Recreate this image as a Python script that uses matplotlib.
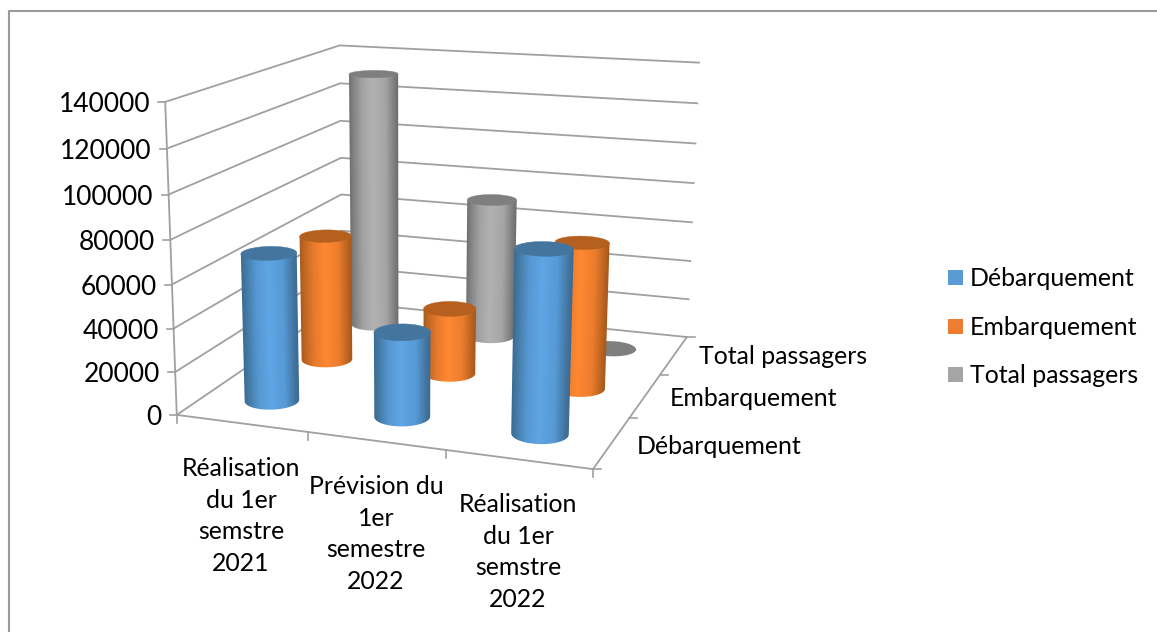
import matplotlib
matplotlib.use("Agg")
import matplotlib.pyplot as plt
from matplotlib.patches import Polygon
import numpy as np

plt.rcParams['font.family'] = ['Lato', 'DejaVu Sans']

# chart data
categories = ["Réalisation\ndu 1er\nsemstre\n2021",
              "Prévision du\n1er\nsemestre\n2022",
              "Réalisation\ndu 1er\nsemstre\n2022"]
series_names = ["Débarquement", "Embarquement", "Total passagers"]
debarquement = [69000, 39000, 82000]
embarquement = [62000, 32000, 69500]
total_passagers = [131000, 71000, 0]
y_ticks = [0, 20000, 40000, 60000, 80000, 100000, 120000, 140000]

W, H = 1157, 632
Z_MAX = y_ticks[-1]
GRID = "#a0a0a0"
INK = "#000000"
FS = 17.9

# box corners (category, series, value) and where they land on the canvas
box_3d = [(0, 0, 0), (3, 0, 0), (3, 3, 0), (0, 3, 0),
          (0, 0, Z_MAX), (0, 3, Z_MAX), (3, 3, Z_MAX)]
box_2d = [(177, 414), (593, 470), (687, 336), (342, 303),
          (165, 102), (340, 45), (699, 63)]


def fit_camera(pts3, pts2):
    rows, rhs = [], []
    for (x, y, z), (u, v) in zip(pts3, pts2):
        z = z / Z_MAX
        rows.append([x, y, z, 1, 0, 0, 0, 0, -u * x, -u * y, -u * z])
        rows.append([0, 0, 0, 0, x, y, z, 1, -v * x, -v * y, -v * z])
        rhs += [u, v]
    p = np.linalg.lstsq(np.array(rows, float), np.array(rhs, float), rcond=None)[0]
    return np.append(p, 1).reshape(3, 4)


CAM = fit_camera(box_3d, box_2d)


def project(x, y, z):
    x, y, z = np.broadcast_arrays(x, y, np.asarray(z, float) / Z_MAX)
    q = CAM @ np.vstack([x.ravel(), y.ravel(), z.ravel(), np.ones(x.size)])
    return q[0] / q[2], q[1] / q[2]


def point(x, y, z):
    u, v = project(x, y, z)
    return float(u[0]), float(v[0])


def line3d(ax, a, b, lw=1.3, zorder=1):
    u, v = project([a[0], b[0]], [a[1], b[1]], [a[2], b[2]])
    ax.plot(u, v, color=GRID, lw=lw, zorder=zorder, solid_capstyle="butt")


def shade(stops, t):
    stops = np.array([matplotlib.colors.to_rgb(c) for c in stops])
    pos = np.array([0, 0.07, 0.26, 0.48, 0.74, 0.93, 1.0])
    return np.dstack([np.interp(t, pos, stops[:, i]) for i in range(3)])


def cylinder(ax, cx, cy, value, side, cap, zorder, r=0.195):
    t = np.linspace(0, 2 * np.pi, 361)
    ex = cx + r * np.cos(t)
    ey = cy + r * np.sin(t)
    bu, bv = project(ex, ey, 0)
    if value <= 0:
        ax.fill(bu, bv, color=cap, lw=0, zorder=zorder)
        return
    tu, tv = project(ex, ey, value)

    # silhouette: lower rim arc of the base plus the two side edges
    bl, br = np.argmin(bu), np.argmax(bu)
    tl, tr = np.argmin(tu), np.argmax(tu)
    chord = bv[bl] + (bu - bu[bl]) * (bv[br] - bv[bl]) / (bu[br] - bu[bl])
    low = bv >= chord
    order = np.argsort(bu[low])
    arc = np.column_stack([bu[low][order], bv[low][order]])
    outline = np.vstack([[(tu[tl], tv[tl])], arc, [(tu[tr], tv[tr])]])

    # horizontal shading, following the lean of the side edges
    x0, x1 = int(outline[:, 0].min()) - 1, int(outline[:, 0].max()) + 2
    y0, y1 = int(outline[:, 1].min()) - 1, int(outline[:, 1].max()) + 2
    gx, gy = np.meshgrid(np.arange(x0, x1) + 0.5, np.arange(y0, y1) + 0.5)
    k = (gy - bv[bl]) / (tv[tl] - bv[bl])
    xl = bu[bl] + k * (tu[tl] - bu[bl])
    xr = bu[br] + k * (tu[tr] - bu[br])
    rgb = shade(side, np.clip((gx - xl) / (xr - xl), 0, 1))
    im = ax.imshow(rgb, extent=(x0, x1, y1, y0), origin="upper", aspect="auto",
                   interpolation="nearest", zorder=zorder)
    im.set_clip_path(Polygon(outline, closed=True, transform=ax.transData))
    ax.fill(tu, tv, color=cap, lw=0.3, zorder=zorder + 0.01)


fig = plt.figure(figsize=(W / 100, H / 100), dpi=100)
ax = fig.add_axes([0, 0, 1, 1])
ax.set_xlim(0, W)
ax.set_ylim(H, 0)
ax.set_autoscale_on(False)
ax.axis("off")

# chart frame, cut off at the right and bottom
ax.plot([9, 9, W], [H, 11, 11], color="#9a9a9a", lw=1.5, zorder=0)

# gridlines on the two back walls
for v in y_ticks:
    u0, v0 = point(0, 0, v)
    u1, v1 = point(0, 3, v)
    u2, v2 = point(3, 3, v)
    ax.plot([u0, u1, u2], [v0, v1, v2], color=GRID, lw=1.3, zorder=1)
    ax.plot([u0 - 7, u0], [v0, v0], color=GRID, lw=1.2, zorder=1)
    ax.text(u0 - 15, v0 + 2.5, str(v), ha="right", va="center", fontsize=19, color=INK)

# floor edges and vertical axis
line3d(ax, (0, 0, 0), (0, 0, Z_MAX))
line3d(ax, (0, 0, 0), (3, 0, 0))
line3d(ax, (3, 0, 0), (3, 3, 0))

for i in range(4):
    u, v = point(i, 0, 0)
    ax.plot([u, u], [v, v + 8], color=GRID, lw=1.2, zorder=1)
    u, v = point(3, i, 0)
    ax.plot([u, u + 8], [v, v], color=GRID, lw=1.2, zorder=1)

# category and series labels
cat_x = [241, 376, 518]
cat_y = [516, 534, 552]
for name, x, y in zip(categories, cat_x, cat_y):
    ax.text(x, y, name, ha="center", va="center", fontsize=FS, color=INK,
            linespacing=1.46)
ser_x = [637, 670, 699]
ser_y = [447, 398, 357]
for name, x, y in zip(series_names, ser_x, ser_y):
    ax.text(x, y, name, ha="left", va="center", fontsize=FS, color=INK)

# series drawn from the back row forward
series_values = [debarquement, embarquement, total_passagers]
side_colors = [
    ["#3a6a96", "#42789f", "#5597d2", "#5fa6e4", "#569ad6", "#42749f", "#3c6a92"],
    ["#a85a1e", "#bc6523", "#e67a2c", "#ff8832", "#ec7d2e", "#b9621f", "#a4581c"],
    ["#6f6f6f", "#808080", "#a2a2a2", "#b2b2b2", "#a5a5a5", "#7c7c7c", "#6c6c6c"],
]
cap_colors = ["#44759f", "#b5601f", "#7f7f7f"]
for j in [2, 1, 0]:
    for i in range(len(categories)):
        cylinder(ax, i + 0.5, j + 0.5, series_values[j][i], side_colors[j], cap_colors[j],
                 zorder=10 + (2 - j) * 10 + i)

# legend
legend_colors = ["#5b9bd5", "#ed7d31", "#a5a5a5"]
legend_y = [277.5, 326.5, 374.5]
for name, col, y in zip(series_names, legend_colors, legend_y):
    ax.fill([948, 963, 963, 948], [y - 7.5, y - 7.5, y + 7.5, y + 7.5], color=col, lw=0)
    ax.text(970, y + 1, name, ha="left", va="center", fontsize=FS, color=INK)

fig.savefig("out.png", dpi=100)
